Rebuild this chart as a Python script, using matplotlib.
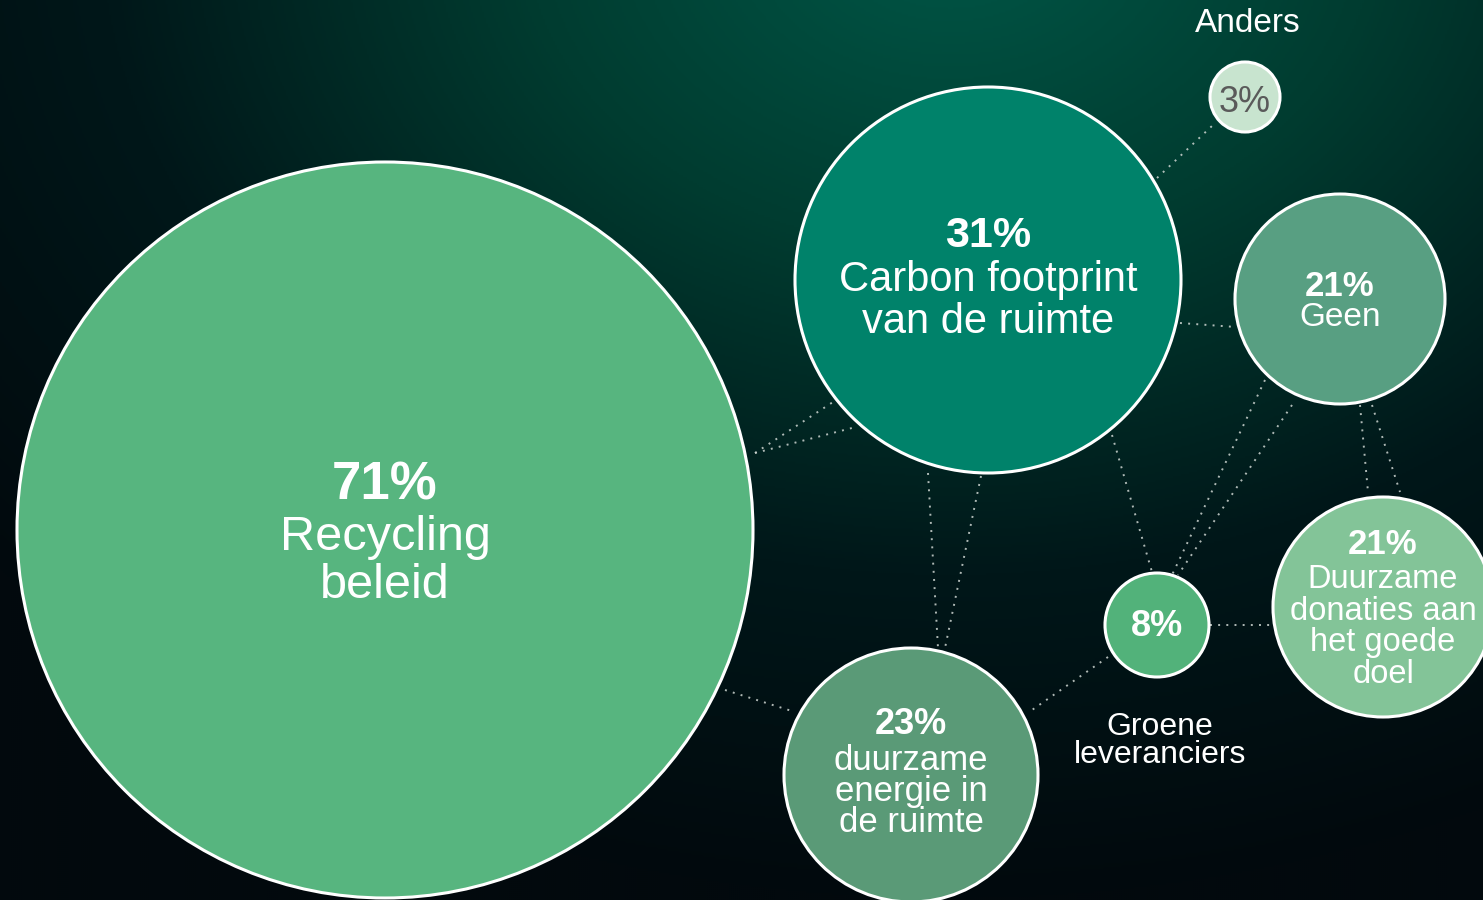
import numpy as np
import matplotlib.pyplot as plt
from matplotlib.patches import Circle
from matplotlib.colors import LinearSegmentedColormap

# data
labels = ["Recycling\nbeleid", "Carbon footprint\nvan de ruimte", "Geen",
          "Duurzame\ndonaties aan\nhet goede\ndoel", "", "duurzame\nenergie in\nde ruimte", ""]
values = [71, 31, 21, 21, 8, 23, 3]
outside_labels = {4: "Groene\nleveranciers", 6: "Anders"}

# layout (pixel coords, y down)
centers = [(385, 530), (988, 280), (1340, 299), (1383, 607), (1157, 625), (911, 775), (1245, 97)]
radii = [368, 193, 105, 110, 52, 127, 35]
fills = ["#57b57f", "#00826a", "#589f82", "#83c498", "#52b27a", "#5a9a77", "#c8e4cf"]
pct_size = [38, 31, 25, 25, 26, 26, 26]
lab_size = [35, 30, 24, 23.5, 0, 25, 0]
pct_dy = [-45, -44, -13, -62, 2, -51, 6]   # offset of the % text from the centre
lab_dy = [8, 0, 19, -27, 0, -14, 0]        # offset of the first label line
line_gap = [48, 42, 32, 31.5, 0, 31, 0]

# dotted connectors: (x0, y0, x1, y1)
links = [
    (755, 453, 833, 402), (755, 453, 852, 428),
    (928, 473, 938, 648), (981, 476, 945, 648),
    (725, 690, 795, 712),
    (1157, 178, 1213, 125),
    (1180, 323, 1236, 327),
    (1112, 435, 1152, 572),
    (1265, 380, 1172, 575), (1292, 405, 1178, 575),
    (1360, 405, 1368, 492), (1372, 405, 1400, 492),
    (1210, 625, 1272, 625),
    (1108, 657, 1032, 710),
]

plt.rcParams['font.family'] = ['Liberation Sans', 'DejaVu Sans']

W, H = 1483, 900
fig = plt.figure(figsize=(W / 100, H / 100), dpi=100)
ax = fig.add_axes([0, 0, 1, 1])
ax.set_xlim(0, W)
ax.set_ylim(H, 0)
ax.axis('off')

# radial background
yy, xx = np.mgrid[0:H:2, 0:W:2]
d = np.sqrt(((xx - 950) / 1.3) ** 2 + (yy + 80) ** 2) / 980
d = np.clip(d, 0, 1)
bg = LinearSegmentedColormap.from_list("bg", ["#005747", "#003c30", "#001719", "#02090d"])
ax.imshow(d, cmap=bg, extent=[0, W, H, 0], aspect='auto', zorder=0, vmin=0, vmax=1)

for x0, y0, x1, y1 in links:
    ax.plot([x0, x1], [y0, y1], color="#cfd6d2", lw=1.4, ls=(0, (1, 3.2)), alpha=0.85, zorder=1)

for i, (c, r) in enumerate(zip(centers, radii)):
    ax.add_patch(Circle(c, r, facecolor=fills[i], edgecolor="white", lw=2.2, zorder=2))
    cx, cy = c
    txt_color = "#5a5a5a" if i == 6 else "white"
    ax.text(cx, cy + pct_dy[i], f"{values[i]}%", ha='center', va='center', fontsize=pct_size[i],
            fontweight='bold' if i != 6 else 'normal', color=txt_color, zorder=3)
    if labels[i]:
        for k, line in enumerate(labels[i].split("\n")):
            ax.text(cx, cy + lab_dy[i] + line_gap[i] * k, line, ha='center', va='center',
                    fontsize=lab_size[i], color=txt_color, zorder=3)

ax.text(1160, 741, outside_labels[4], ha='center', va='center', fontsize=23,
        color="white", linespacing=0.95, zorder=3)
ax.text(1248, 23, outside_labels[6], ha='center', va='center', fontsize=24,
        color="white", zorder=3)

fig.savefig("out.png", dpi=100)
